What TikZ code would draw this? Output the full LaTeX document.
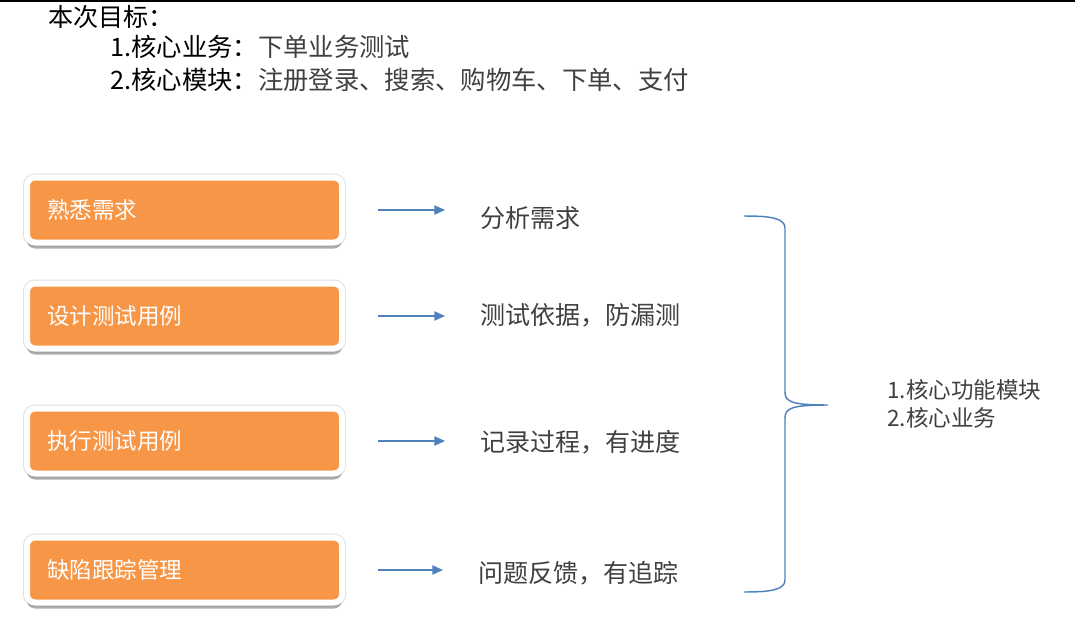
\documentclass[tikz,border=0pt]{standalone}
\usepackage{fontspec}
\setmainfont{Noto Sans CJK SC}
\usepackage{xcolor}
\usepackage{tikz}
\usetikzlibrary{shadows,arrows.meta}
\definecolor{boxorange}{HTML}{F79646}
\definecolor{arrblue}{HTML}{4F81BD}
\definecolor{txtgray}{HTML}{404040}

\begin{document}
\begin{tikzpicture}[x=0.75pt,y=-0.75pt,
  task/.style={fill=boxorange,draw=white,line width=4.5pt,rounded corners=6pt,
    minimum height=48.75pt,text width=206.25pt,inner xsep=15pt,align=left,
    text=white,font=\fontsize{16.9}{20}\selectfont,
    preaction={draw=black!12,line width=6pt},
    drop shadow={opacity=0.45,shadow xshift=0pt,shadow yshift=-4.5pt,fill=black!70}},
  result/.style={anchor=west,inner sep=0pt,text=txtgray,font=\fontsize{18.8}{22}\selectfont},
  flow/.style={draw=arrblue,line width=1pt,-{Triangle[length=8pt,width=7pt]}},
  brace/.style={draw=arrblue,line width=1.1pt}]
  \useasboundingbox (0,0) rectangle (1075,628);
  \draw[black,line width=1.5pt] (0,1) -- (1075,1);

  % goals
  \node[anchor=west,inner sep=0pt,font=\fontsize{18.8}{22}\selectfont] (goal) at (48,17) {本次目标：};
  \node[anchor=west,inner sep=0pt,font=\fontsize{19}{22}\selectfont] (goal1) at (110,47)
    {1.核心业务：\textcolor{txtgray}{下单业务测试}};
  \node[anchor=west,inner sep=0pt,font=\fontsize{19}{22}\selectfont] (goal2) at (110,80)
    {2.核心模块：\textcolor{txtgray}{注册登录、搜索、购物车、下单、支付}};

  % steps
  \foreach \i/\y/\ry/\rx/\lft/\rgt in {1/210/218/480/熟悉需求/分析需求,
      2/316/315/480/设计测试用例/测试依据，防漏测,
      3/441/442/480/执行测试用例/记录过程，有进度,
      4/570/573/478/缺陷跟踪管理/问题反馈，有追踪} {
    \node[task] (b\i) at (184.5,\y) {\lft};
    \node[result] (r\i) at (\rx,\ry) {\rgt};
    \draw[flow] ([xshift=24.75pt]b\i.east) -- ([xshift=-26.25pt]b\i.east -| r\i.west);
  }

  % brace
  \coordinate (tip) at (828,405);
  \draw[brace] (744,216) .. controls (770,216) and (785,218) .. (785,228)
    -- (785,392) .. controls (785,402) and (792,405) .. (tip)
    .. controls (792,405) and (785,408) .. (785,418)
    -- (785,580) .. controls (785,590) and (770,592) .. (744,592);
  \node[anchor=west,inner sep=0pt,align=left,text=txtgray,
    font=\fontsize{16.9}{20.5}\selectfont] (core) at (887,404)
    {1.核心功能模块\\2.核心业务};
\end{tikzpicture}
\end{document}
